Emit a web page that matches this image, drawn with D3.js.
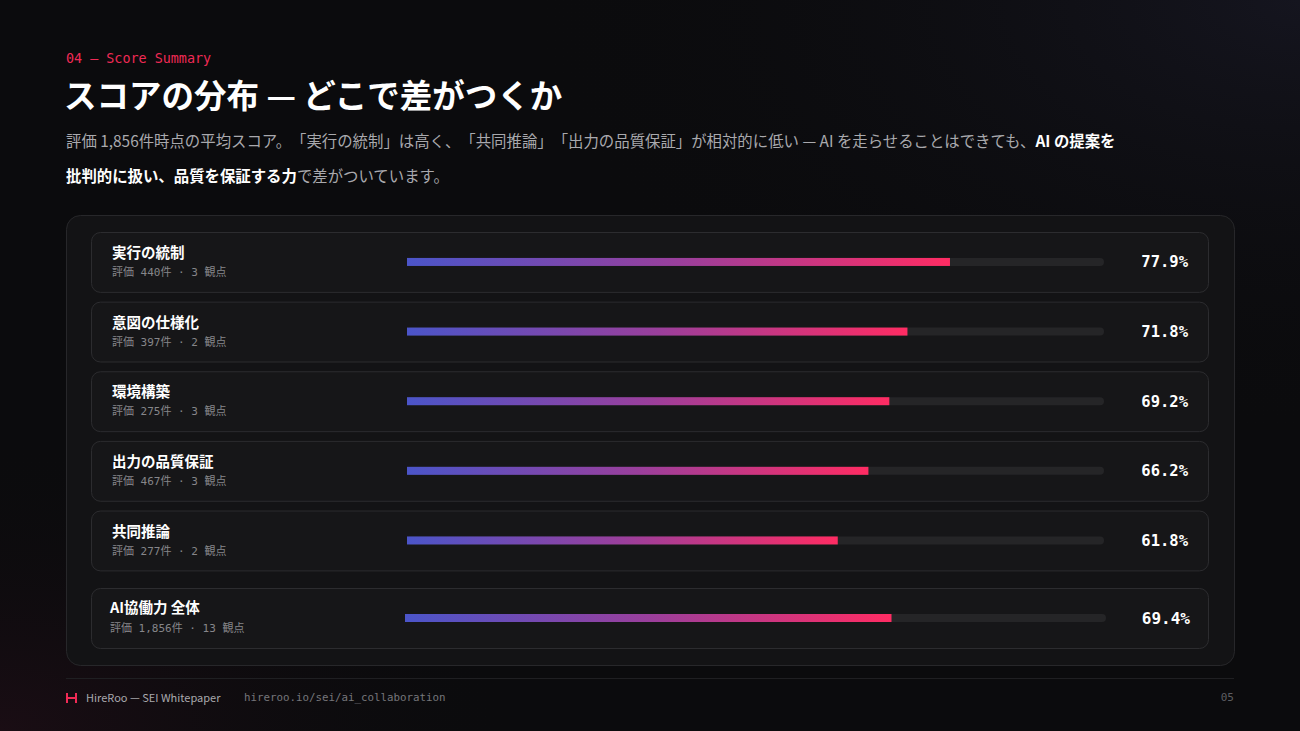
<!DOCTYPE html>
<html>
<head>
<meta charset="utf-8">
<script src="https://cdn.jsdelivr.net/npm/d3@7"></script>
<style>
  html, body { margin: 0; padding: 0; background: #0b0b0d; }
  svg { display: block; }
  .jp { font-family: "Noto Sans CJK JP", "Noto Sans", sans-serif; text-spacing-trim: space-all; }
  .mono { font-family: "DejaVu Sans Mono", "Liberation Mono", "Noto Sans CJK JP", monospace; }
</style>
</head>
<body>
<div id="chart"></div>
<script>
// ____________________________DATA________________________//
const categories = ['実行の統制', '意図の仕様化', '環境構築', '出力の品質保証', '共同推論']
const scores = [77.9, 71.8, 69.2, 66.2, 61.8]
const reviewCounts = ['440', '397', '275', '467', '277']
const viewpoints = [3, 2, 3, 3, 2]

const totalLabel = 'AI協働力 全体'
const totalScore = 69.4
const totalReviews = '1,856'
const totalViewpoints = 13

const WIDTH = 1300
const HEIGHT = 731

const svg = d3.select('#chart').append('svg')
    .attr('width', WIDTH)
    .attr('height', HEIGHT)

const defs = svg.append('defs')

// background glow
const bg = defs.append('radialGradient')
    .attr('id', 'bgGlowTop')
    .attr('cx', '100%').attr('cy', '0%').attr('r', '60%')
bg.append('stop').attr('offset', '0%').attr('stop-color', '#15151f')
bg.append('stop').attr('offset', '100%').attr('stop-color', '#0b0b0d').attr('stop-opacity', 0)

const bg2 = defs.append('radialGradient')
    .attr('id', 'bgGlowBottom')
    .attr('cx', '0%').attr('cy', '100%').attr('r', '40%')
bg2.append('stop').attr('offset', '0%').attr('stop-color', '#1a0d14')
bg2.append('stop').attr('offset', '100%').attr('stop-color', '#0b0b0d').attr('stop-opacity', 0)

const barGrad = defs.append('linearGradient')
    .attr('id', 'barGrad')
    .attr('x1', '0%').attr('x2', '100%')
barGrad.append('stop').attr('offset', '0%').attr('stop-color', '#4b55c9')
barGrad.append('stop').attr('offset', '50%').attr('stop-color', '#9a3f9c')
barGrad.append('stop').attr('offset', '100%').attr('stop-color', '#ff2c63')

svg.append('rect').attr('width', WIDTH).attr('height', HEIGHT).attr('fill', '#0b0b0d')
svg.append('rect').attr('width', WIDTH).attr('height', HEIGHT).attr('fill', 'url(#bgGlowTop)')
svg.append('rect').attr('width', WIDTH).attr('height', HEIGHT).attr('fill', 'url(#bgGlowBottom)')

// ______HEADER_____//
svg.append('text')
    .attr('class', 'mono')
    .attr('x', 66).attr('y', 63)
    .attr('font-size', 13.4)
    .attr('fill', '#f02a55')
    .text('04 — Score Summary')

svg.append('text')
    .attr('class', 'jp')
    .attr('x', 64).attr('y', 108)
    .attr('font-size', 32.5)
    .attr('font-weight', 700)
    .attr('fill', '#ffffff')
    .text('スコアの分布 — どこで差がつくか')

const sub1 = svg.append('text')
    .attr('class', 'jp')
    .attr('x', 66).attr('y', 147)
    .attr('font-size', 15.4)
    .attr('fill', '#a9a9ad')
sub1.append('tspan').text('評価 1,856件時点の平均スコア。「実行の統制」は高く、「共同推論」「出力の品質保証」が相対的に低い — AI を走らせることはできても、')
sub1.append('tspan').attr('fill', '#ffffff').attr('font-weight', 700).text('AI の提案を')

const sub2 = svg.append('text')
    .attr('class', 'jp')
    .attr('x', 66).attr('y', 182)
    .attr('font-size', 15.4)
    .attr('fill', '#a9a9ad')
sub2.append('tspan').attr('fill', '#ffffff').attr('font-weight', 700).text('批判的に扱い、品質を保証する力')
sub2.append('tspan').text('で差がついています。')

// ______PANEL_____//
svg.append('rect')
    .attr('x', 66.5).attr('y', 215.5)
    .attr('width', 1168).attr('height', 450)
    .attr('rx', 14)
    .attr('fill', '#131315')
    .attr('stroke', '#27272a')

// ______ROWS_____//
const x = d3.scaleLinear().domain([0, 100]).range([407, 1104])

const y = d3.scaleBand()
    .domain(categories)
    .range([232, 570.4])
    .paddingInner(0.14)
    .paddingOuter(0)

const rows = svg.append('g').attr('class', 'rows')
    .selectAll('g')
    .data(categories.map((c, i) => ({name: c, score: scores[i], n: reviewCounts[i], v: viewpoints[i]})))
    .join('g')
    .attr('transform', d => `translate(0,${y(d.name)})`)

rows.append('rect')
    .attr('x', 91.5).attr('y', 0.5)
    .attr('width', 1117).attr('height', y.bandwidth())
    .attr('rx', 9)
    .attr('fill', '#161618')
    .attr('stroke', '#2c2c2f')

rows.append('text')
    .attr('class', 'jp')
    .attr('x', 112).attr('y', 26)
    .attr('font-size', 14.5)
    .attr('font-weight', 700)
    .attr('fill', '#ffffff')
    .text(d => d.name)

rows.append('text')
    .attr('class', 'mono')
    .attr('x', 112).attr('y', 44)
    .attr('font-size', 11)
    .attr('fill', '#86868a')
    .text(d => `評価 ${d.n}件 · ${d.v} 観点`)

const barY = y.bandwidth() / 2 - 4

rows.append('rect')
    .attr('x', x(0)).attr('y', barY)
    .attr('width', x(100) - x(0)).attr('height', 8)
    .attr('rx', 4)
    .attr('fill', '#252527')

rows.append('rect')
    .attr('x', x(0)).attr('y', barY)
    .attr('width', d => x(d.score) - x(0)).attr('height', 8)
    .attr('fill', 'url(#barGrad)')

rows.append('text')
    .attr('class', 'mono')
    .attr('x', 1188).attr('y', y.bandwidth() / 2 + 5.5)
    .attr('text-anchor', 'end')
    .attr('font-size', 15.5)
    .attr('font-weight', 700)
    .attr('fill', '#ffffff')
    .text(d => `${d.score.toFixed(1)}%`)

// ______TOTAL ROW_____//
const xTotal = d3.scaleLinear().domain([0, 100]).range([405, 1106])
const total = svg.append('g').attr('transform', 'translate(0,588)')

total.append('rect')
    .attr('x', 91.5).attr('y', 0.5)
    .attr('width', 1117).attr('height', 60)
    .attr('rx', 9)
    .attr('fill', '#161618')
    .attr('stroke', '#2c2c2f')

total.append('text')
    .attr('class', 'jp')
    .attr('x', 110).attr('y', 25)
    .attr('font-size', 14.5)
    .attr('font-weight', 700)
    .attr('fill', '#ffffff')
    .text(totalLabel)

total.append('text')
    .attr('class', 'mono')
    .attr('x', 110).attr('y', 44)
    .attr('font-size', 11)
    .attr('fill', '#86868a')
    .text(`評価 ${totalReviews}件 · ${totalViewpoints} 観点`)

total.append('rect')
    .attr('x', xTotal(0)).attr('y', 26)
    .attr('width', xTotal(100) - xTotal(0)).attr('height', 8)
    .attr('rx', 4)
    .attr('fill', '#252527')

total.append('rect')
    .attr('x', xTotal(0)).attr('y', 26)
    .attr('width', xTotal(totalScore) - xTotal(0)).attr('height', 8)
    .attr('fill', 'url(#barGrad)')

total.append('text')
    .attr('class', 'mono')
    .attr('x', 1190).attr('y', 36)
    .attr('text-anchor', 'end')
    .attr('font-size', 16)
    .attr('font-weight', 700)
    .attr('fill', '#ffffff')
    .text(`${totalScore.toFixed(1)}%`)

// ______FOOTER_____//
svg.append('line')
    .attr('x1', 66).attr('x2', 1234)
    .attr('y1', 678.5).attr('y2', 678.5)
    .attr('stroke', '#1f1f22')

const logo = svg.append('g').attr('stroke', '#f02a55').attr('stroke-width', 2).attr('fill', 'none')
logo.append('path').attr('d', 'M67,693 L67,703 M76,693 L76,703 M67,698 L76,698')

svg.append('text')
    .attr('class', 'jp')
    .attr('x', 86).attr('y', 702)
    .attr('font-size', 11)
    .attr('fill', '#a9a9ad')
    .text('HireRoo — SEI Whitepaper')

svg.append('text')
    .attr('class', 'mono')
    .attr('x', 244).attr('y', 701)
    .attr('font-size', 10.8)
    .attr('fill', '#76767a')
    .text('hireroo.io/sei/ai_collaboration')

svg.append('text')
    .attr('class', 'mono')
    .attr('x', 1234).attr('y', 701)
    .attr('text-anchor', 'end')
    .attr('font-size', 11)
    .attr('fill', '#5e5e62')
    .text('05')
</script>
</body>
</html>
